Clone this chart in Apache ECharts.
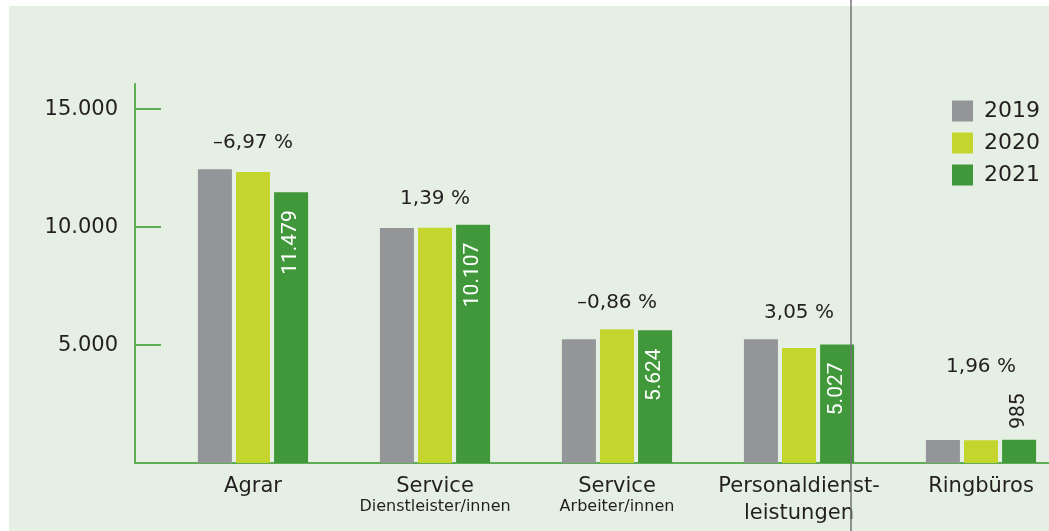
<!DOCTYPE html>
<html>
<head>
    <meta charset="UTF-8">
    <title>Beschäftigte nach Bereich</title>
    <script src="https://cdn.jsdelivr.net/npm/echarts@6/dist/echarts.min.js"></script>
    <style>
        html, body { margin: 0; padding: 0; background: #fff; }
    </style>
</head>
<body>
<div id="main" style="width: 1049px;height:531px;"></div>
<script type="text/javascript">
    // Daten
    var categories = ['Agrar', 'Service', 'Service', 'Personaldienst-\nleistungen', 'Ringbüros'];
    var subtitles = ['', 'Dienstleister/innen', 'Arbeiter/innen', '', ''];
    var years = ['2019', '2020', '2021'];
    var values2019 = [12460, 9960, 5250, 5250, 975];
    var values2020 = [12340, 9970, 5670, 4880, 966];
    var values2021 = [11479, 10107, 5624, 5027, 985];
    var changes = ['–6,97 %', '1,39 %', '–0,86 %', '3,05 %', '1,96 %'];
    var yTicks = [5000, 10000, 15000];

    var colors = ['#939598', '#c4d62e', '#40983b'];
    var axisGreen = '#5fae55';
    var textColor = '#231f20';
    var fontFamily = 'DejaVu Sans';
    var yMax = 16070;

    var myChart = echarts.init(document.getElementById('main'));

    function fmt(v) {
        return String(v).replace(/\B(?=(\d{3})+(?!\d))/g, '.');
    }

    // Gruppen-Maximum für die Prozent-Labels
    var groupMax = categories.map(function (c, i) {
        return Math.max(values2019[i], values2020[i], values2021[i]);
    });

    var barCommon = {
        type: 'bar',
        xAxisIndex: 0,
        yAxisIndex: 0,
        barWidth: 34,
        barGap: '12%'
    };

    var option = {
        backgroundColor: '#ffffff',
        animation: false,
        textStyle: { fontFamily: fontFamily },
        graphic: [
            {
                type: 'rect', z: -10, silent: true,
                shape: { x: 9, y: 6, width: 1040, height: 525 },
                style: { fill: '#e6efe3' }
            },
            {
                type: 'line', z: 100, silent: true,
                shape: { x1: 851, y1: 0, x2: 851, y2: 531 },
                style: { stroke: '#747474', lineWidth: 1.5 }
            }
        ],
        legend: {
            orient: 'vertical',
            left: 947,
            top: 95,
            itemWidth: 21,
            itemHeight: 21,
            itemGap: 10,
            icon: 'rect',
            data: years,
            textStyle: { fontSize: 22, color: textColor, fontFamily: fontFamily, padding: [0, 0, 0, 6] }
        },
        grid: [
            { left: 162, width: 910, top: 84, bottom: 68, outerBoundsMode: 'none', containLabel: false },
            { left: 135, width: 26, top: 84, bottom: 68, outerBoundsMode: 'none', containLabel: false }
        ],
        xAxis: [
            {
                type: 'category',
                gridIndex: 0,
                data: categories,
                axisLine: { lineStyle: { color: axisGreen, width: 2 } },
                axisTick: { show: false },
                axisLabel: {
                    margin: 12,
                    interval: 0,
                    formatter: function (value, index) {
                        var lines = categories[index].split('\n');
                        var s = '{a|' + lines[0] + '}';
                        if (lines.length > 1) s += '\n{c|' + lines[1] + '}';
                        if (subtitles[index]) s += '\n{b|' + subtitles[index] + '}';
                        return s;
                    },
                    rich: {
                        a: { fontSize: 21, lineHeight: 24, color: textColor, fontFamily: fontFamily },
                        c: { fontSize: 21, lineHeight: 30, color: textColor, fontFamily: fontFamily },
                        b: { fontSize: 16, lineHeight: 16, color: textColor, fontFamily: fontFamily }
                    }
                }
            },
            {
                type: 'value',
                gridIndex: 1,
                axisLine: { show: true, onZero: false, lineStyle: { color: axisGreen, width: 2 } },
                axisTick: { show: false },
                axisLabel: { show: false },
                splitLine: { show: false }
            }
        ],
        yAxis: [
            {
                type: 'value',
                gridIndex: 0,
                min: 0,
                max: yMax,
                show: false,
                splitLine: { show: false }
            },
            {
                type: 'value',
                gridIndex: 1,
                min: 0,
                max: yMax,
                interval: 5000,
                axisLine: { show: true, lineStyle: { color: axisGreen, width: 2 } },
                axisTick: { show: false },
                axisLabel: {
                    margin: 17,
                    fontSize: 21,
                    color: textColor,
                    fontFamily: fontFamily,
                    formatter: function (v) {
                        return yTicks.indexOf(v) >= 0 ? fmt(v) : '';
                    }
                },
                splitLine: {
                    show: true,
                    showMinLine: false,
                    showMaxLine: false,
                    lineStyle: { color: axisGreen, width: 2 }
                }
            }
        ],
        series: [
            Object.assign({}, barCommon, {
                name: years[0],
                itemStyle: { color: colors[0] },
                data: values2019
            }),
            Object.assign({}, barCommon, {
                name: years[1],
                itemStyle: { color: colors[1] },
                data: values2020
            }),
            Object.assign({}, barCommon, {
                name: years[2],
                itemStyle: { color: colors[2] },
                label: {
                    show: true,
                    position: 'insideTop',
                    rotate: 90,
                    align: 'right',
                    verticalAlign: 'middle',
                    distance: 18,
                    fontSize: 21,
                    color: '#ffffff',
                    fontFamily: 'Roboto',
                    formatter: function (p) { return fmt(p.value); }
                },
                data: values2021.map(function (v) {
                    // kleine Balken: Wert über dem Balken
                    if (v < 2000) {
                        return {
                            value: v,
                            label: { position: 'top', align: 'left', distance: 11, color: textColor }
                        };
                    }
                    return v;
                })
            }),
            {
                type: 'scatter',
                name: 'change',
                xAxisIndex: 0,
                yAxisIndex: 0,
                symbolSize: 0,
                silent: true,
                itemStyle: { opacity: 1 },
                label: {
                    show: true,
                    position: 'top',
                    distance: 16,
                    fontSize: 20,
                    color: textColor,
                    opacity: 1,
                    fontFamily: fontFamily,
                    formatter: function (p) { return changes[p.dataIndex]; }
                },
                data: groupMax.map(function (v, i) {
                    if (values2021[i] < 2000) {
                        return { value: v, label: { distance: 63 } };
                    }
                    return v;
                })
            }
        ]
    };

    myChart.setOption(option);
</script>
</body>
</html>
